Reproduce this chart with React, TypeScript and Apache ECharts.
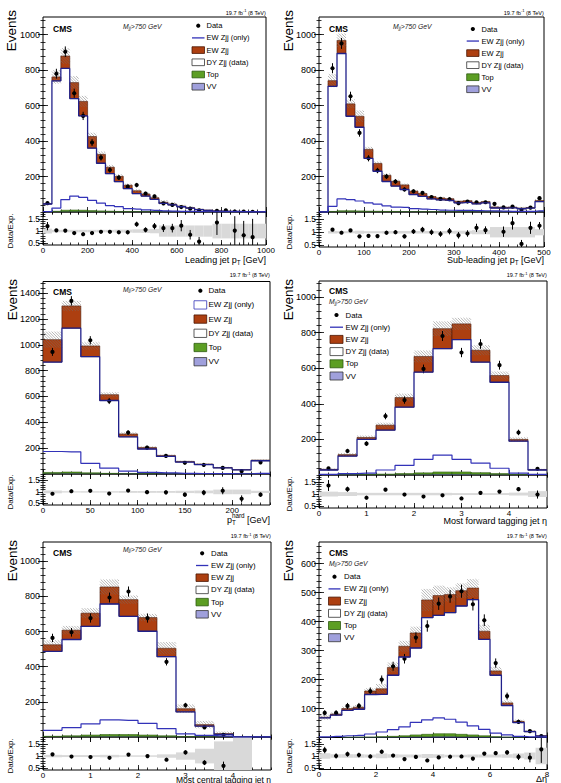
import React, { useEffect, useRef } from "react";
import * as echarts from "echarts";

const FONT = "Liberation Sans, Arial, Helvetica, sans-serif";
const RED = "#ad3f10";
const RED_EDGE = "#4a1604";
const GREEN = "#5c9e23";
const GREEN_EDGE = "#2d5a10";
const LAVENDER = "#a0a0dc";
const NAVY = "#20208a";
const BLUE = "#3232b8";
const BAND = "#d9d9d9";
const HATCH = "#707070";

// ---- Leading jet pT (bins of 40 GeV from 0) ----
const leadBins = { lo: 0, width: 40 };
const leadVV = [0, 1, 3, 3, 3, 2, 2, 1.5, 1, 1, 0.8, 0.6, 0.5, 0.4, 0.3, 0.2, 0.2, 0.1, 0, 0, 0, 0, 0, 0, 0];
const leadTop = [0, 3, 7, 8, 7, 6, 4, 3, 2, 2, 1, 1, 1, 0.5, 0.5, 0.3, 0.2, 0.1, 0, 0, 0, 0, 0, 0, 0];
const leadDY = [45, 736, 800, 629, 532, 352, 269, 212, 168, 129, 102, 88, 70, 48, 39, 29, 21, 13, 9, 5, 4, 3, 2, 1, 1];
const leadEW = [2, 22, 70, 90, 82, 66, 50, 36, 30, 19, 16, 12, 9, 6, 5, 4, 3, 2, 1.5, 1, 0.8, 0.5, 0.4, 0.3, 0.2];
const leadData = [50, 780, 904, 670, 542, 392, 307, 237, 194, 143, 152, 104, 88, 49, 40, 28, 19, 9, 0, 7, 9, 3, 2, 1, 0];
const leadRatio = [1.2, 1.03, 1.02, 0.92, 0.87, 0.92, 0.97, 0.97, 0.95, 0.95, 1.28, 1.05, 1.2, 1.12, 1.12, 1.22, 0.85, 0.57, null, 1.35, null, 1.02, 0.83, 0.75, null];
const leadUnc = [0.1, 0.05, 0.05, 0.05, 0.05, 0.05, 0.05, 0.05, 0.06, 0.06, 0.07, 0.08, 0.09, 0.23, 0.23, 0.23, 0.23, 0.23, 0.23, 0.3, 0.3, 0.3, 0.3, 0.3, 0.3];
const leadXTicks = [0, 200, 400, 600, 800, 1000];
const leadYTicks = [200, 400, 600, 800, 1000];

// ---- Sub-leading jet pT (bins of 20 GeV from 0) ----
const subBins = { lo: 0, width: 20 };
const subVV = [0, 1, 2, 2, 2, 1.5, 1, 1, 1, 0.8, 0.6, 0.5, 0.5, 0.4, 0.4, 0.3, 0.3, 0.3, 0.3, 0.2, 0.2, 0.2, 0.1, 0.1, 0.3];
const subTop = [0, 2, 5, 5, 4, 3, 3, 2, 2, 1, 1, 1, 1, 1, 0.5, 0.5, 0.5, 0.5, 0.5, 0.3, 0.3, 0.2, 0.2, 0.2, 0.5];
const subDY = [0, 706, 887, 533, 472, 298, 226, 169, 143, 125, 97, 87, 72, 67, 64, 51, 54, 45, 51, 22, 21, 23, 18, 22, 58];
const subEW = [0, 32, 74, 70, 62, 51, 44, 35, 27, 26, 19, 16, 14, 11, 10, 9, 9, 8, 7, 6, 5, 4, 4, 3, 6];
const subData = [0, 811, 951, 653, 446, 303, 234, 200, 172, 127, 117, 108, 84, 74, 72, 50, 59, 55, 55, 46, 26, 30, 13, 25, 78];
const subRatio = [null, 1.1, 0.98, 1.07, 0.84, 0.86, 0.85, 0.98, 1.0, 0.84, 1.03, 1.1, 1.0, 0.93, 1.04, 0.88, 0.95, 1.17, 1.08, null, 1.02, 1.35, 0.55, 1.17, 1.25];
const subUnc = [0, 0.05, 0.04, 0.04, 0.06, 0.04, 0.04, 0.05, 0.05, 0.05, 0.05, 0.05, 0.05, 0.05, 0.05, 0.06, 0.06, 0.08, 0.08, 0.2, 0.2, 0.2, 0.2, 0.2, 0.12];
const subXTicks = [0, 100, 200, 300, 400, 500];
const subYTicks = [200, 400, 600, 800, 1000];

// ---- Hardest-jet pT (bins of 20 GeV from 0) ----
const hardBins = { lo: 0, width: 20 };
const hardVV = [4, 5, 3, 2, 1, 0.5, 0.3, 0.2, 0.1, 0.1, 0.1, 0.2];
const hardTop = [8, 10, 6, 3, 1, 1, 0.5, 0.3, 0.2, 0.1, 0.1, 0.3];
const hardDY = [854, 1114, 899, 564, 286, 192, 135, 92, 73, 47, 32, 102];
const hardEW = [174, 172, 83, 45, 22, 12, 8, 5, 4, 3, 2, 5];
const hardData = [945, 1340, 1035, 565, 321, 204, 140, 87, 70, 47, 22, 90];
const hardRatio = [0.92, 1.03, 1.05, 0.93, 1.06, 0.99, 0.98, 0.88, 0.97, 1.05, 0.7, 0.88];
const hardUnc = [0.06, 0.03, 0.03, 0.03, 0.04, 0.04, 0.04, 0.05, 0.06, 0.1, 0.1, 0.05];
const hardXTicks = [0, 50, 100, 150, 200];
const hardYTicks = [200, 400, 600, 800, 1000, 1200, 1400];

// ---- Most forward tagging jet eta (bins of 0.4) ----
const fwdBins = { lo: 0, width: 0.4 };
const fwdVV = [0, 0.5, 1, 2, 3, 4, 5, 5, 4, 3, 1, 0];
const fwdTop = [0, 1, 2, 3, 5, 8, 12, 12, 9, 5, 2, 0];
const fwdDY = [28, 105, 197, 247, 373, 566, 693, 744, 621, 513, 187, 28];
const fwdEW = [4, 8, 11, 28, 54, 88, 112, 88, 67, 38, 10, 3];
const fwdData = [37, 135, 176, 331, 421, 596, 781, 688, 736, 617, 239, 35];
const fwdRatio = [1.35, 1.2, 0.85, 1.18, 0.98, 0.9, 0.95, 0.82, 1.05, 1.1, 1.2, 0.98];
const fwdUnc = [0.1, 0.08, 0.05, 0.05, 0.05, 0.05, 0.05, 0.04, 0.04, 0.04, 0.06, 0.12];
const etaXTicks = [0, 1, 2, 3, 4];
const fwdYTicks = [200, 400, 600, 800, 1000];

// ---- Most central tagging jet eta (bins of 0.4) ----
const cenBins = { lo: 0, width: 0.4 };
const cenVV = [1, 2, 3, 4, 4, 3, 2, 1, 0.5, 0.2, 0, 0];
const cenTop = [3, 5, 8, 10, 10, 8, 5, 2, 1, 0.3, 0, 0];
const cenDY = [483, 548, 619, 743, 673, 591, 450, 140, 60, 14, 0, 0];
const cenEW = [38, 53, 75, 97, 95, 78, 48, 18, 9, 5, 0, 0];
const cenData = [564, 596, 677, 794, 828, 677, 428, 181, 55, 12, 0, 0];
const cenRatio = [1.07, 0.98, 0.96, 0.93, 1.06, 1.0, 0.85, 1.15, 0.73, 0.6, null, null];
const cenUnc = [0.05, 0.04, 0.04, 0.05, 0.03, 0.03, 0.07, 0.15, 0.3, 0.6, 1.5, 0];
const cenYTicks = [200, 400, 600, 800, 1000];

// ---- Delta eta between tagging jets (bins of 0.4) ----
const detaBins = { lo: 0, width: 0.4 };
const detaVV = [0, 0, 0.3, 0.5, 0.5, 1, 1, 2, 3, 3, 4, 4, 3, 3, 2, 1, 0.5, 0.2, 0, 0];
const detaTop = [0, 0, 0.5, 1, 1, 2, 3, 4, 6, 8, 9, 9, 8, 6, 4, 2, 1, 0.5, 0, 0];
const detaDY = [68, 77, 93, 96, 147, 146, 211, 272, 300, 403, 409, 418, 443, 467, 333, 212, 109, 51, 20, 5];
const detaEW = [2, 4, 6, 7, 12, 19, 27, 37, 52, 61, 68, 63, 53, 40, 28, 15, 9, 4, 2, 1];
const detaData = [85, 85, 109, 109, 160, 200, 246, 272, 345, 385, 462, 487, 505, 460, 405, 257, 143, 54, 22, 5];
const detaRatio = [1.25, 1.0, 1.08, 1.04, 0.98, 1.18, 1.02, 0.87, 0.96, 0.81, 0.94, 0.97, 0.98, 0.89, 1.1, 1.12, 1.15, 0.96, 0.93, 1.28];
const detaUnc = [0.12, 0.07, 0.07, 0.07, 0.06, 0.1, 0.07, 0.06, 0.06, 0.08, 0.07, 0.05, 0.05, 0.06, 0.06, 0.06, 0.07, 0.1, 0.15, 0.35];
const detaXTicks = [0, 2, 4, 6, 8];
const detaYTicks = [100, 200, 300, 400, 500, 600];

const ratioTicks = [0.5, 1, 1.5];
const RATIO_MIN = 0.43;
const RATIO_MAX = 1.78;

const LEGEND_LABELS = ["Data", "EW Zjj (only)", "EW Zjj", "DY Zjj (data)", "Top", "VV"];

type Part = { t: string; size: number; dy?: number; italic?: boolean; bold?: boolean; over?: boolean };

const PANELS = [
  {
    bins: leadBins, vv: leadVV, top: leadTop, dy: leadDY, ew: leadEW, data: leadData, ratio: leadRatio, unc: leadUnc,
    xMax: 1000, xTicks: leadXTicks, xMinor: 40, yMax: 1100, yTicks: leadYTicks, yMinor: 40,
    frame: { left: 43, right: 266, top: 17, mid: 212, bottom: 245 },
    lumi: { x: 266, y: 12.5 }, cms: { x: 53, y: 28.5 }, mjj: { x: 123, y: 26.7 },
    legend: { boxX: 192, y0: 25.7, step: 12.2, boxW: 12.5, boxH: 6.7, fs: 7.5, textX: 206.5, ewBox: false },
    events: { x: 11, y: 10 }, ratioTitle: { x: 10.5, y: 231 },
    xTitle: { x: 266, y: 259.5, parts: [{ t: "Leading jet p", size: 9 }, { t: "T", size: 6.3, dy: 2.8 }, { t: " [GeV]", size: 9 }] as Part[] },
  },
  {
    bins: subBins, vv: subVV, top: subTop, dy: subDY, ew: subEW, data: subData, ratio: subRatio, unc: subUnc,
    xMax: 500, xTicks: subXTicks, xMinor: 20, yMax: 1100, yTicks: subYTicks, yMinor: 40,
    frame: { left: 319, right: 544, top: 17, mid: 212, bottom: 247 },
    lumi: { x: 544, y: 12.5 }, cms: { x: 329, y: 29 }, mjj: { x: 393, y: 26.7 },
    legend: { boxX: 466.7, y0: 29, step: 12.05, boxW: 12.3, boxH: 6.7, fs: 7.5, textX: 481.5, ewBox: false },
    events: { x: 288, y: 10 }, ratioTitle: { x: 289, y: 232 },
    xTitle: { x: 544, y: 260, parts: [{ t: "Sub-leading jet p", size: 9 }, { t: "T", size: 6.3, dy: 2.8 }, { t: " [GeV]", size: 9 }] as Part[] },
  },
  {
    bins: hardBins, vv: hardVV, top: hardTop, dy: hardDY, ew: hardEW, data: hardData, ratio: hardRatio, unc: hardUnc,
    xMax: 240, xTicks: hardXTicks, xMinor: 10, yMax: 1490, yTicks: hardYTicks, yMinor: 40,
    frame: { left: 43, right: 270, top: 281.5, mid: 474, bottom: 505 },
    lumi: { x: 270, y: 275 }, cms: { x: 53, y: 292.3 }, mjj: { x: 123, y: 289 },
    legend: { boxX: 194, y0: 290.7, step: 14.2, boxW: 12.7, boxH: 8.3, fs: 8, textX: 208.5, ewBox: true },
    events: { x: 12, y: 279 }, ratioTitle: { x: 10.5, y: 492 },
    xTitle: { x: 270, y: 519.5, parts: [{ t: "p", size: 9 }, { t: "hard", size: 6.3, dy: -3.6 }, { t: "T", size: 6.3, dy: 2.8, over: true }, { t: " [GeV]", size: 9 }] as Part[] },
  },
  {
    bins: fwdBins, vv: fwdVV, top: fwdTop, dy: fwdDY, ew: fwdEW, data: fwdData, ratio: fwdRatio, unc: fwdUnc,
    xMax: 4.8, xTicks: etaXTicks, xMinor: 0.2, yMax: 1090, yTicks: fwdYTicks, yMinor: 40,
    frame: { left: 319, right: 547, top: 281, mid: 475, bottom: 508 },
    lumi: { x: 547, y: 275 }, cms: { x: 329, y: 291 }, mjj: { x: 329, y: 301.5 },
    legend: { boxX: 330, y0: 315, step: 12.2, boxW: 13, boxH: 8, fs: 7.8, textX: 345.5, ewBox: false },
    events: { x: 288, y: 279 }, ratioTitle: { x: 289, y: 494 },
    xTitle: { x: 547, y: 521, parts: [{ t: "Most forward tagging jet η", size: 9 }] as Part[] },
  },
  {
    bins: cenBins, vv: cenVV, top: cenTop, dy: cenDY, ew: cenEW, data: cenData, ratio: cenRatio, unc: cenUnc,
    xMax: 4.8, xTicks: etaXTicks, xMinor: 0.2, yMax: 1110, yTicks: cenYTicks, yMinor: 40,
    frame: { left: 43, right: 271, top: 542, mid: 737, bottom: 770 },
    lumi: { x: 271, y: 536 }, cms: { x: 53, y: 553.3 }, mjj: { x: 123, y: 549 },
    legend: { boxX: 196, y0: 553.3, step: 12.2, boxW: 12.3, boxH: 7.5, fs: 7.8, textX: 211, ewBox: false },
    events: { x: 12, y: 540 }, ratioTitle: { x: 10.5, y: 756 },
    xTitle: { x: 271, y: 779.5, parts: [{ t: "Most central tagging jet η", size: 8.5 }] as Part[] },
  },
  {
    bins: detaBins, vv: detaVV, top: detaTop, dy: detaDY, ew: detaEW, data: detaData, ratio: detaRatio, unc: detaUnc,
    xMax: 8, xTicks: detaXTicks, xMinor: 0.4, yMax: 675, yTicks: detaYTicks, yMinor: 20,
    frame: { left: 319, right: 547, top: 542, mid: 737.5, bottom: 769.5 },
    lumi: { x: 547, y: 536 }, cms: { x: 329, y: 553.3 }, mjj: { x: 329, y: 563 },
    legend: { boxX: 328.5, y0: 576.7, step: 12.2, boxW: 12, boxH: 8, fs: 7.8, textX: 344, ewBox: false },
    events: { x: 288, y: 540 }, ratioTitle: { x: 289, y: 756 },
    xTitle: { x: 547, y: 779, parts: [{ t: "Δη", size: 9 }] as Part[] },
  },
];

function range(a: number, b: number, s: number) {
  const out: number[] = [];
  const n = Math.round((b - a) / s);
  for (let k = 0; k <= n; k++) out.push(+(a + k * s).toFixed(6));
  return out;
}

let measureCtx: CanvasRenderingContext2D | null = null;
function textWidth(t: string, size: number, bold = false, italic = false) {
  if (!measureCtx) measureCtx = document.createElement("canvas").getContext("2d");
  measureCtx!.font = `${italic ? "italic " : ""}${bold ? "bold " : ""}${size}px ${FONT}`;
  return measureCtx!.measureText(t).width;
}

// A run of text fragments (sub/superscripts as shifted smaller fragments)
function textRun(parts: Part[], x: number, y: number, align: "left" | "right", color = "#000") {
  const placed: { p: Part; x: number }[] = [];
  let cx = 0;
  let prevStart = 0;
  let prevW = 0;
  parts.forEach((p) => {
    const w = textWidth(p.t, p.size, p.bold, p.italic);
    if (p.over) {
      placed.push({ p, x: prevStart });
      prevW = Math.max(prevW, w);
      cx = prevStart + prevW;
    } else {
      placed.push({ p, x: cx });
      prevStart = cx;
      prevW = w;
      cx += w;
    }
  });
  const start = align === "right" ? x - cx : x;
  return placed.map(({ p, x: px }) => ({
    type: "text",
    x: start + px,
    y: y + (p.dy || 0),
    silent: true,
    style: {
      text: p.t,
      fontSize: p.size,
      fontFamily: FONT,
      fontWeight: p.bold ? "bold" : "normal",
      fontStyle: p.italic ? "italic" : "normal",
      fill: color,
      textAlign: "left",
      textVerticalAlign: "middle",
    },
  }));
}

function makeAxes(dim: "x" | "y", gridIndex: number, min: number, max: number, majors: number[], minors: number[], labels: number[] | null, fontSize: number, margin: number) {
  const sides = dim === "x" ? ["bottom", "top"] : ["left", "right"];
  const base = {
    type: "value",
    gridIndex,
    min,
    max,
    silent: true,
    axisLine: { show: false },
    splitLine: { show: false },
    minorTick: { show: false },
  };
  const out: any[] = [];
  sides.forEach((side, k) => {
    out.push({
      ...base,
      position: side,
      axisTick: { show: true, inside: true, length: 5, customValues: majors, lineStyle: { color: "#000", width: 0.8 } },
      axisLabel:
        k === 0 && labels
          ? { show: true, customValues: labels, fontSize, fontFamily: FONT, color: "#000", margin, formatter: (v: number) => String(v) }
          : { show: false },
    });
    out.push({
      ...base,
      position: side,
      axisTick: { show: true, inside: true, length: 2.5, customValues: minors, lineStyle: { color: "#000", width: 0.8 } },
      axisLabel: { show: false },
    });
  });
  return out;
}

// Diagonal hatching clipped to a rectangle, on a global line lattice
function hatch(out: any[], x0: number, x1: number, yTop: number, yBot: number) {
  const s = 2.8;
  const cMin = x0 - yBot;
  const cMax = x1 - yTop;
  for (let k = Math.ceil(cMin / s); k * s <= cMax; k++) {
    const c = k * s;
    const xa = Math.max(x0, yTop + c);
    const xb = Math.min(x1, yBot + c);
    if (xb > xa) {
      out.push({ type: "line", shape: { x1: xa, y1: xa - c, x2: xb, y2: xb - c }, style: { stroke: HATCH, lineWidth: 0.5 } });
    }
  }
}

function renderStack(_params: any, api: any) {
  const lo = api.value(0);
  const hi = api.value(1);
  const vv = api.value(2);
  const tp = api.value(3);
  const dy = api.value(4);
  const ew = api.value(5);
  const u = api.value(6);
  const x0 = api.coord([lo, 0])[0];
  const x1 = api.coord([hi, 0])[0];
  const Y = (v: number) => api.coord([lo, v])[1];
  const children: any[] = [];
  const box = (a: number, b: number, fill: string, stroke: string) => {
    if (b <= a) return;
    const ya = Y(a);
    const yb = Y(b);
    children.push({ type: "rect", shape: { x: x0, y: yb, width: x1 - x0, height: ya - yb }, style: { fill, stroke, lineWidth: 0.6 } });
  };
  box(0, vv, LAVENDER, NAVY);
  box(vv, vv + tp, GREEN, GREEN_EDGE);
  const base = vv + tp + dy;
  box(base, base + ew, RED, RED_EDGE);
  const tot = base + ew;
  if (u > 0 && tot > 0) hatch(children, x0, x1, Y(tot * (1 + u)), Y(Math.max(0, tot * (1 - u))));
  return { type: "group", children };
}

function renderPoint(_params: any, api: any) {
  const x = api.value(0);
  const v = api.value(1);
  const e = api.value(2);
  const p = api.coord([x, v]);
  const a = api.coord([x, v - e]);
  const b = api.coord([x, v + e]);
  return {
    type: "group",
    children: [
      { type: "line", shape: { x1: p[0], y1: a[1], x2: p[0], y2: b[1] }, style: { stroke: "#000", lineWidth: 1 } },
      { type: "circle", shape: { cx: p[0], cy: p[1], r: 2.1 }, style: { fill: "#000" } },
    ],
  };
}

function renderBand(_params: any, api: any) {
  const lo = api.value(0);
  const hi = api.value(1);
  const u = api.value(2);
  const a = api.coord([lo, 1 + u]);
  const b = api.coord([hi, 1 - u]);
  return { type: "rect", shape: { x: a[0], y: a[1], width: b[0] - a[0], height: b[1] - a[1] }, style: { fill: BAND } };
}

function stepData(lo: number, bw: number, vals: number[]) {
  const pts: number[][] = [[lo, vals[0]]];
  vals.forEach((v, i) => pts.push([lo + (i + 0.5) * bw, v]));
  pts.push([lo + vals.length * bw, vals[vals.length - 1]]);
  return pts;
}

function legendGraphics(L: any) {
  const out: any[] = [];
  LEGEND_LABELS.forEach((label, k) => {
    const cy = L.y0 + k * L.step;
    const bx = L.boxX;
    const rect = (fill: string, stroke: string) =>
      out.push({ type: "rect", silent: true, shape: { x: bx, y: cy - L.boxH / 2, width: L.boxW, height: L.boxH }, style: { fill, stroke, lineWidth: 0.8 } });
    if (k === 0) {
      out.push({ type: "circle", silent: true, shape: { cx: bx + L.boxW / 2, cy, r: 2.1 }, style: { fill: "#000" } });
    } else if (k === 1) {
      if (L.ewBox) rect("#fff", BLUE);
      else out.push({ type: "line", silent: true, shape: { x1: bx, y1: cy, x2: bx + L.boxW, y2: cy }, style: { stroke: BLUE, lineWidth: 1.3 } });
    } else if (k === 2) rect(RED, RED_EDGE);
    else if (k === 3) rect("#fff", "#333");
    else if (k === 4) rect(GREEN, GREEN_EDGE);
    else rect(LAVENDER, "#333");
    out.push(...textRun([{ t: label, size: L.fs }], L.textX, cy, "left"));
  });
  return out;
}

function buildOption() {
  const grids: any[] = [];
  const xAxes: any[] = [];
  const yAxes: any[] = [];
  const series: any[] = [];
  const graphics: any[] = [];

  PANELS.forEach((P) => {
    const F = P.frame;
    const lo = P.bins.lo;
    const bw = P.bins.width;
    const xMinors = range(lo, P.xMax, P.xMinor);
    const yMinors = range(0, Math.floor(P.yMax / P.yMinor) * P.yMinor, P.yMinor);
    const rMinors = range(0.5, 1.7, 0.1);

    const gm = grids.length;
    grids.push({ left: F.left, top: F.top, width: F.right - F.left, height: F.mid - F.top, show: true, borderColor: "#000", borderWidth: 1, backgroundColor: "transparent" });
    xAxes.push(...makeAxes("x", gm, lo, P.xMax, P.xTicks, xMinors, null, 8, 2));
    yAxes.push(...makeAxes("y", gm, 0, P.yMax, P.yTicks, yMinors, P.yTicks, 9, 3));

    const gr = grids.length;
    grids.push({ left: F.left, top: F.mid, width: F.right - F.left, height: F.bottom - F.mid, show: true, borderColor: "#000", borderWidth: 1, backgroundColor: "transparent" });
    xAxes.push(...makeAxes("x", gr, lo, P.xMax, P.xTicks, xMinors, P.xTicks, 8, 1));
    yAxes.push(...makeAxes("y", gr, RATIO_MIN, RATIO_MAX, ratioTicks, rMinors, ratioTicks, 8.5, 3));

    const mainAx = { xAxisIndex: 4 * gm, yAxisIndex: 4 * gm };
    const ratioAx = { xAxisIndex: 4 * gr, yAxisIndex: 4 * gr };

    // upper edge of the DY + Top + VV part of the stack
    const dyTop = P.dy.map((d, i) => P.vv[i] + P.top[i] + d);

    series.push({
      type: "custom",
      ...mainAx,
      clip: true,
      silent: true,
      renderItem: renderStack,
      data: P.dy.map((d, i) => [lo + i * bw, lo + (i + 1) * bw, P.vv[i], P.top[i], d, P.ew[i], P.unc[i]]),
    });
    series.push({
      type: "line",
      ...mainAx,
      step: "middle",
      symbol: "none",
      silent: true,
      clip: true,
      lineStyle: { color: NAVY, width: 1.3 },
      data: stepData(lo, bw, dyTop),
    });
    series.push({
      type: "line",
      ...mainAx,
      step: "middle",
      symbol: "none",
      silent: true,
      clip: true,
      lineStyle: { color: BLUE, width: 1.2 },
      data: stepData(lo, bw, P.ew),
    });
    series.push({
      type: "custom",
      ...mainAx,
      clip: true,
      silent: true,
      renderItem: renderPoint,
      data: P.data.map((v, i) => [lo + (i + 0.5) * bw, v, Math.sqrt(v)]).filter((d) => d[1] > 0),
    });

    series.push({
      type: "custom",
      ...ratioAx,
      clip: true,
      silent: true,
      renderItem: renderBand,
      data: P.unc.map((u, i) => [lo + i * bw, lo + (i + 1) * bw, u]).filter((d) => d[2] > 0),
    });
    const ratioPts: number[][] = [];
    P.ratio.forEach((r, i) => {
      if (r == null || !(P.data[i] > 0)) return;
      ratioPts.push([lo + (i + 0.5) * bw, r, r / Math.sqrt(P.data[i])]);
    });
    series.push({ type: "custom", ...ratioAx, clip: true, silent: true, renderItem: renderPoint, data: ratioPts });

    // annotations
    graphics.push(...textRun([{ t: "19.7 fb", size: 5.6 }, { t: "-1", size: 4, dy: -1.8 }, { t: " (8 TeV)", size: 5.6 }], P.lumi.x, P.lumi.y, "right"));
    graphics.push(...textRun([{ t: "CMS", size: 8.5, bold: true }], P.cms.x, P.cms.y, "left"));
    graphics.push(...textRun([{ t: "M", size: 6.8, italic: true }, { t: "jj", size: 4.8, dy: 1.8, italic: true }, { t: ">750 GeV", size: 6.8, italic: true }], P.mjj.x, P.mjj.y, "left", "#222"));
    graphics.push(...legendGraphics(P.legend));
    graphics.push({
      type: "text",
      x: P.events.x,
      y: P.events.y,
      rotation: Math.PI / 2,
      silent: true,
      style: { text: "Events", fontSize: 13.5, fontFamily: FONT, fill: "#000", textAlign: "right", textVerticalAlign: "middle" },
    });
    graphics.push({
      type: "text",
      x: P.ratioTitle.x,
      y: P.ratioTitle.y,
      rotation: Math.PI / 2,
      silent: true,
      style: { text: "Data/Exp.", fontSize: 8, fontFamily: FONT, fill: "#000", textAlign: "center", textVerticalAlign: "middle" },
    });
    graphics.push(...textRun(P.xTitle.parts, P.xTitle.x, P.xTitle.y, "right"));
  });

  return {
    animation: false,
    backgroundColor: "#fff",
    textStyle: { fontFamily: FONT },
    grid: grids,
    xAxis: xAxes,
    yAxis: yAxes,
    series,
    graphic: graphics,
  };
}

export default function App() {
  const ref = useRef<HTMLDivElement>(null);
  useEffect(() => {
    const chart = echarts.init(ref.current!, undefined, { renderer: "svg" });
    chart.setOption(buildOption() as any);
    return () => chart.dispose();
  }, []);
  return <div ref={ref} style={{ position: "fixed", left: 0, top: 0, width: 561, height: 783, background: "#fff" }} />;
}
